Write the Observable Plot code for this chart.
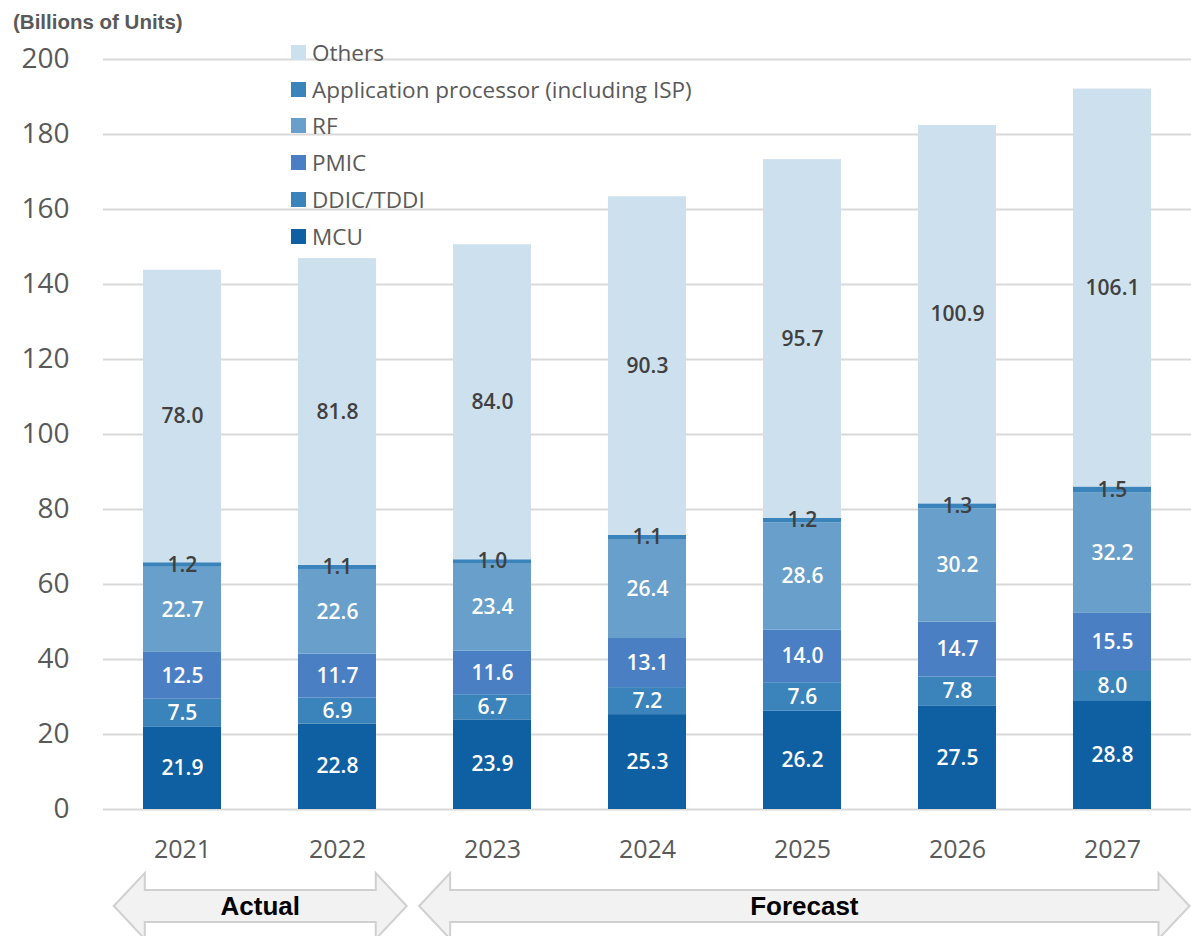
<!DOCTYPE html>
<html><head><meta charset="utf-8">
<script src="https://cdn.jsdelivr.net/npm/d3@7"></script>
<script src="https://cdn.jsdelivr.net/npm/@observablehq/plot@0.6"></script>
<style>
html,body{margin:0;padding:0;background:#fff;}
#wrap{position:relative;width:1191px;height:936px;overflow:hidden;font-family:"Open Sans",sans-serif;}
#title{position:absolute;left:13px;top:10px;font:bold 20.5px "Liberation Sans",Arial,sans-serif;color:#595959;}
#legend{position:absolute;left:291px;top:34px;}
.li{height:36.8px;display:flex;align-items:center;font-size:22.5px;color:#595959;white-space:nowrap;}
.sw{width:15px;height:15px;margin-right:6px;flex:none;}
#chart{position:absolute;left:0;top:0;}
</style></head>
<body><div id="wrap"><div id="chart"></div><div id="title">(Billions of Units)</div><div id="legend"></div></div>
<script>
const years = ["2021","2022","2023","2024","2025","2026","2027"];
const seriesNames = ["MCU","DDIC/TDDI","PMIC","RF","Application processor (including ISP)","Others"];
const mcu    = [21.9, 22.8, 23.9, 25.3, 26.2, 27.5, 28.8];
const ddic   = [7.5, 6.9, 6.7, 7.2, 7.6, 7.8, 8.0];
const pmic   = [12.5, 11.7, 11.6, 13.1, 14.0, 14.7, 15.5];
const rf     = [22.7, 22.6, 23.4, 26.4, 28.6, 30.2, 32.2];
const ap     = [1.2, 1.1, 1.0, 1.1, 1.2, 1.3, 1.5];
const others = [78.0, 81.8, 84.0, 90.3, 95.7, 100.9, 106.1];
const colors = ["#0f5fa3","#3a83bb","#4a7fc4","#68a0cb","#3a83bb","#cde0ed"];
const labelColors = ["#fff","#fff","#fff","#fff","#404040","#404040"];
const yTicks = [0,20,40,60,80,100,120,140,160,180,200];
const legendOrder = ["Others","Application processor (including ISP)","RF","PMIC","DDIC/TDDI","MCU"];
const periods = [{name:"Actual", from:"2021", to:"2022"},{name:"Forecast", from:"2023", to:"2027"}];

const valuesBySeries = [mcu, ddic, pmic, rf, ap, others];
const data = [];
seriesNames.forEach((s, si) => years.forEach((y, yi) => data.push({year:y, series:s, value:valuesBySeries[si][yi], lc:labelColors[si]})));

const plot = Plot.plot({
  width: 1191, height: 936,
  marginLeft: 103, marginRight: 0, marginTop: 59, marginBottom: 127,
  style: {fontFamily: '"Open Sans", sans-serif', background: "transparent"},
  x: {domain: years, paddingInner: 0.5, paddingOuter: 0.25, label: null, tickSize: 0},
  y: {domain: [0, 200], ticks: yTicks, label: null, tickSize: 0},
  color: {domain: seriesNames, range: colors},
  marks: [
    Plot.ruleY(yTicks, {stroke: "#d9d9d9", strokeWidth: 2}),
    Plot.barY(data, Plot.stackY({x: "year", y: "value", z: "series", fill: "series", order: seriesNames})),
    Plot.text(data, Plot.stackY({x: "year", y: "value", z: "series", order: seriesNames, text: d => d.value.toFixed(1), fill: "lc", fontSize: 21, fontWeight: 600})),
    Plot.axisX({tickSize: 0, tickPadding: 31, fontSize: 25, fill: "#595959"}),
    Plot.axisY({ticks: yTicks, tickSize: 0, tickPadding: 34, fontSize: 28, fill: "#595959"})
  ]
});
document.getElementById("chart").appendChild(plot);

// period arrows below the axis
const xs = plot.scale("x");
const step = xs.step;
const svg = d3.select(plot);
const g = svg.append("g");
const cy = 906, bodyH = 16, headH = 33, headL = 31;
periods.forEach((p, i) => {
  const cFrom = xs.apply(p.from) + xs.bandwidth / 2;
  const cTo = xs.apply(p.to) + xs.bandwidth / 2;
  const x0 = cFrom - (i === 0 ? 0.44 : 0.47) * step;
  const x1 = cTo + (i === 0 ? 0.45 : 0.5) * step;
  const pts = [[x0, cy],[x0+headL, cy-headH],[x0+headL, cy-bodyH],[x1-headL, cy-bodyH],[x1-headL, cy-headH],[x1, cy],[x1-headL, cy+headH],[x1-headL, cy+bodyH],[x0+headL, cy+bodyH],[x0+headL, cy+headH]];
  g.append("path").attr("d", "M" + pts.map(q => q.join(",")).join("L") + "Z")
    .attr("fill", "#f2f2f2").attr("stroke", "#d0d0d0").attr("stroke-width", 2);
  g.append("text").attr("x", (x0 + x1) / 2).attr("y", cy).attr("dy", "0.36em")
    .attr("text-anchor", "middle").attr("font-family", '"Liberation Sans Narrow","Liberation Sans",Arial,sans-serif')
    .attr("font-weight", "bold").attr("font-size", 26).attr("fill", "#000").text(p.name);
});

// legend
const leg = document.getElementById("legend");
legendOrder.forEach(s => {
  const row = document.createElement("div"); row.className = "li";
  const sw = document.createElement("span"); sw.className = "sw"; sw.style.background = colors[seriesNames.indexOf(s)];
  const t = document.createElement("span"); t.textContent = s;
  row.appendChild(sw); row.appendChild(t); leg.appendChild(row);
});
</script></body></html>
